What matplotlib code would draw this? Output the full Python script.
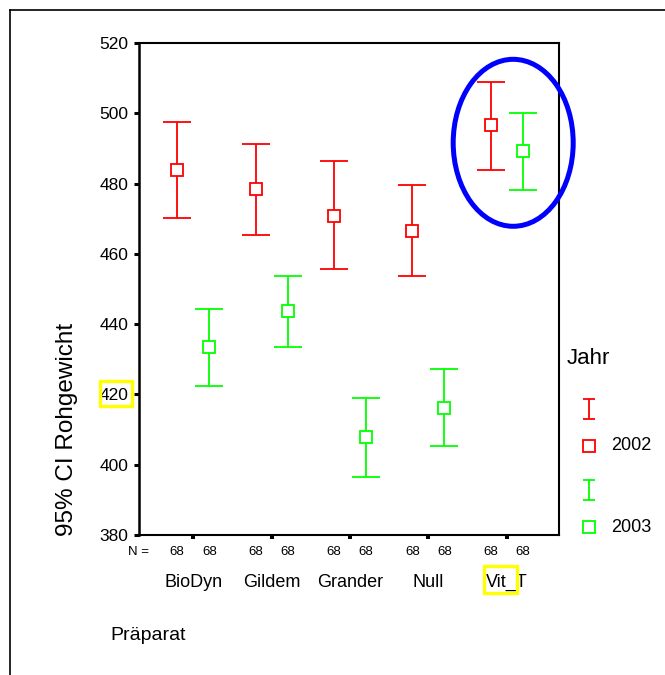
import matplotlib
matplotlib.use("Agg")
import matplotlib.pyplot as plt
import matplotlib.transforms as mtransforms
from matplotlib.patches import Ellipse, Rectangle
from matplotlib.lines import Line2D
import numpy as np

plt.rcParams['font.family'] = ['Liberation Sans', 'DejaVu Sans']

# data (95% CI of Rohgewicht by Präparat and Jahr)
categories = ['BioDyn', 'Gildem', 'Grander', 'Null', 'Vit_T']
years = ['2002', '2003']
n_counts = [[68, 68, 68, 68, 68], [68, 68, 68, 68, 68]]

mean_2002 = [483.9, 478.5, 470.9, 466.4, 496.7]
low_2002 = [470.3, 465.5, 455.7, 453.7, 483.9]
high_2002 = [497.6, 491.3, 486.3, 479.6, 508.8]

mean_2003 = [433.6, 443.8, 407.8, 416.1, 489.4]
low_2003 = [422.4, 433.6, 396.6, 405.4, 478.1]
high_2003 = [444.3, 453.7, 419.1, 427.3, 500.0]

colors = ['#ff0000', '#00ff00']

W, H = 665, 675
fig = plt.figure(figsize=(W / 100, H / 100), dpi=100)
fig.patch.set_facecolor('white')

# main axes placed in pixel terms
ax_l, ax_r, ax_t, ax_b = 139, 559, 43, 535
ax = fig.add_axes([ax_l / W, 1 - ax_b / H, (ax_r - ax_l) / W, (ax_b - ax_t) / H])

x = np.arange(len(categories))
offsets = [-0.205, 0.205]
series = [(mean_2002, low_2002, high_2002), (mean_2003, low_2003, high_2003)]

for k, (m, lo, hi) in enumerate(series):
    m = np.array(m)
    err = [m - np.array(lo), np.array(hi) - m]
    ax.errorbar(x + offsets[k], m, yerr=err, fmt='s', color=colors[k],
                mfc='white', mec=colors[k], mew=1.3, ms=8,
                elinewidth=1.3, capsize=10, capthick=1.3, zorder=3)

ax.set_xlim(-0.693, 4.667)
ax.set_ylim(380, 520)
ax.set_yticks(np.arange(380, 521, 20))
ax.tick_params(axis='y', direction='out', length=3.6, width=2.2, labelsize=12.5, pad=4)
ax.set_xticks(x)
ax.set_xticklabels(categories, fontsize=13)
ax.tick_params(axis='x', direction='out', length=2.9, width=2.9, pad=25)
for s in ax.spines.values():
    s.set_linewidth(1.5)
ax.spines['left'].set_linewidth(1.8)

# N = row under the axis
trans = mtransforms.blended_transform_factory(ax.transData, fig.transFigure)
y_n = 1 - 552 / H
fig.text(ax_l / W, y_n, 'N =', fontsize=9.5, ha='center', va='center')
for k in range(2):
    for i in range(len(categories)):
        ax.text(x[i] + offsets[k], y_n, str(n_counts[k][i]), transform=trans,
                fontsize=9.5, ha='center', va='center')

fig.text(66.5 / W, 1 - 429 / H, '95% CI Rohgewicht', rotation=90,
         fontsize=17.5, ha='center', va='center')
fig.text(110 / W, 1 - 635 / H, 'Präparat', fontsize=14, ha='left', va='center')

# overlay in pixel coordinates for legend and annotations
ov = fig.add_axes([0, 0, 1, 1], zorder=5)
ov.set_xlim(0, W)
ov.set_ylim(H, 0)
ov.axis('off')
ov.patch.set_alpha(0)

ov.text(567, 358, 'Jahr', fontsize=16, ha='left', va='center')
leg_rows = [(409, 446), (490, 527)]
for k, (ye, ys) in enumerate(leg_rows):
    ov.errorbar([588.5], [ye], yerr=[10], fmt='none', ecolor=colors[k],
                elinewidth=1.3, capsize=4.5, capthick=1.3)
    ov.plot([588.5], [ys], 's', mfc='white', mec=colors[k], mew=1.3, ms=8)
    ov.text(611, ys, years[k], fontsize=13, ha='left', va='center')

ov.add_patch(Ellipse((513.2, 142.8), 120, 167, fill=False,
                     edgecolor='#0000ff', linewidth=3.6))
ov.add_patch(Rectangle((100, 381), 31.5, 25, fill=False,
                       edgecolor='#ffff00', linewidth=2.4))
ov.add_patch(Rectangle((484, 566), 33.3, 26.6, fill=False,
                       edgecolor='#ffff00', linewidth=2.4))

ov.add_line(Line2D([10, W], [10, 10], color='black', linewidth=1.2))
ov.add_line(Line2D([10, 10], [10, H], color='black', linewidth=1.2))

fig.savefig('out.png', dpi=100)
